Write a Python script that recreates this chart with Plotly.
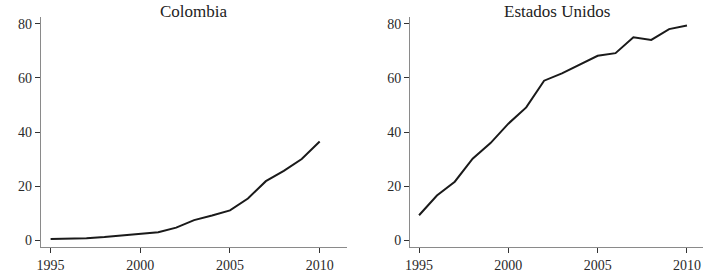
import plotly.graph_objects as go

years = list(range(1995, 2011))
colombia = [0.4, 0.5, 0.7, 1.1, 1.7, 2.2, 2.9, 4.6, 7.4, 9.1, 11.0, 15.4, 21.8, 25.6, 30.0, 36.5]
estados_unidos = [9.2, 16.5, 21.6, 30.1, 35.9, 43.1, 49.1, 59.0, 61.7, 64.9, 68.2, 69.2, 75.1, 74.1, 78.1, 79.4]
titles = ["Colombia", "Estados Unidos"]
x_ticks = [1995, 2000, 2005, 2010]
y_ticks = [0, 20, 40, 60, 80]

font_family = "Liberation Serif, DejaVu Serif, serif"
line_color = "#1a1a1a"

fig = go.Figure()
fig.add_trace(go.Scatter(x=years, y=colombia, mode="lines",
                         line=dict(color=line_color, width=2),
                         xaxis="x", yaxis="y", showlegend=False))
fig.add_trace(go.Scatter(x=years, y=estados_unidos, mode="lines",
                         line=dict(color=line_color, width=2),
                         xaxis="x2", yaxis="y2", showlegend=False))

W, H = 710, 273
ydom = [1 - 248 / H, 1 - 17 / H]
dom1 = [36 / W, 344 / W]
dom2 = [408 / W, 703 / W]

axis_common = dict(showgrid=False, zeroline=False, showline=True,
                   linecolor="#8a8a8a", linewidth=1,
                   ticks="outside", ticklen=5, tickcolor="#333333", tickwidth=1,
                   tickfont=dict(family=font_family, size=14, color="#2a2a2a"))

fig.update_layout(
    width=W, height=H,
    margin=dict(l=0, r=0, t=0, b=0),
    paper_bgcolor="white", plot_bgcolor="white",
    xaxis=dict(domain=dom1, range=[1994.45, 2011.5], tickvals=x_ticks,
               anchor="y", **axis_common),
    yaxis=dict(domain=ydom, range=[-2.6, 82.6], tickvals=y_ticks,
               anchor="x", **axis_common),
    xaxis2=dict(domain=dom2, range=[1994.5, 2010.9], tickvals=x_ticks,
                anchor="y2", **axis_common),
    yaxis2=dict(domain=ydom, range=[-2.6, 82.6], tickvals=y_ticks,
                anchor="x2", **axis_common),
    annotations=[
        dict(text=titles[0], x=(dom1[0] + dom1[1]) / 2, y=1 - 12 / H,
             xref="paper", yref="paper", showarrow=False,
             xanchor="center", yanchor="middle",
             font=dict(family=font_family, size=17, color="#222222")),
        dict(text=titles[1], x=(dom2[0] + dom2[1]) / 2, y=1 - 12 / H,
             xref="paper", yref="paper", showarrow=False,
             xanchor="center", yanchor="middle",
             font=dict(family=font_family, size=17, color="#222222")),
    ],
)

fig.write_html("out.html",
               config={"displayModeBar": False},
               post_script="document.body.style.margin='0';document.body.style.overflow='hidden';")
